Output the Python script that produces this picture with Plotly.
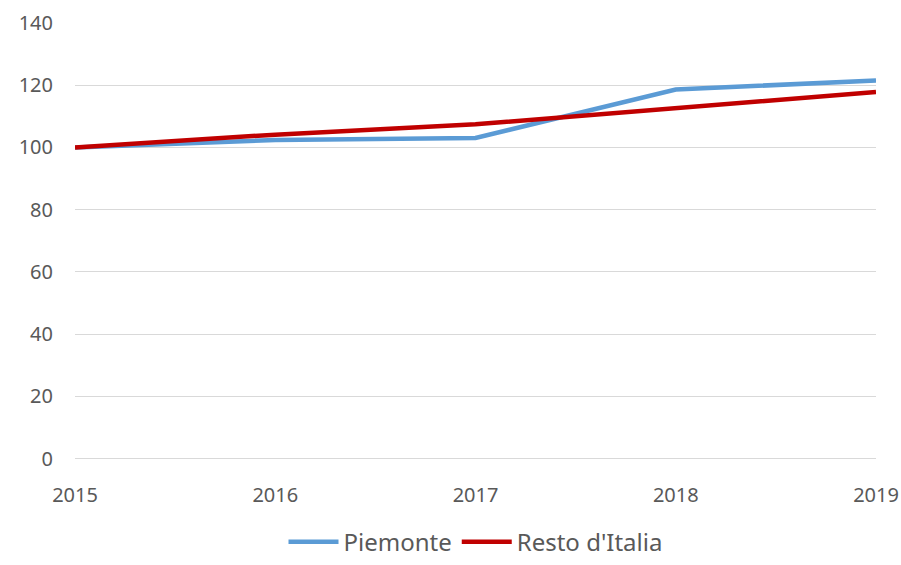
import plotly.graph_objects as go

years = [2015, 2016, 2017, 2018, 2019]
piemonte = [100, 102.4, 103.0, 118.6, 121.5]
resto = [100, 104.1, 107.4, 112.6, 117.8]
y_ticks = [0, 20, 40, 60, 80, 100, 120, 140]

fig = go.Figure()
fig.add_trace(go.Scatter(x=years, y=piemonte, mode="lines", name="Piemonte",
                         line=dict(color="#5B9BD5", width=4.5)))
fig.add_trace(go.Scatter(x=years, y=resto, mode="lines", name="Resto d'Italia",
                         line=dict(color="#C00000", width=4.5)))

font_family = "Noto Sans, DejaVu Sans, sans-serif"
fig.update_layout(
    width=901, height=565,
    margin=dict(l=75, r=25, t=22, b=104, autoexpand=False),
    plot_bgcolor="white", paper_bgcolor="white",
    font=dict(family=font_family, color="#595959", size=20),
    showlegend=True,
    legend=dict(orientation="h", x=0.5, xanchor="center", yref="paper",
                y=-0.236, yanchor="bottom",
                font=dict(size=24, color="#595959"), itemwidth=50, traceorder="normal"),
    xaxis=dict(range=[2015, 2019], tickvals=years, ticktext=[str(y) for y in years],
               showgrid=False, zeroline=False, showline=False, ticks="",
               automargin=False,
               ticklabelstandoff=20, tickfont=dict(size=20, color="#595959")),
    yaxis=dict(range=[-0.8, 140.3], tickvals=y_ticks, showgrid=True, gridcolor="#D9D9D9",
               gridwidth=1, zeroline=True, zerolinecolor="#D9D9D9", zerolinewidth=1,
               showline=False, ticks="",
               automargin=False,
               ticklabelstandoff=21, tickfont=dict(size=20, color="#595959")),
)
fig.write_html("out.html", config={"displayModeBar": False},
               post_script="document.body.style.margin='0px';")
